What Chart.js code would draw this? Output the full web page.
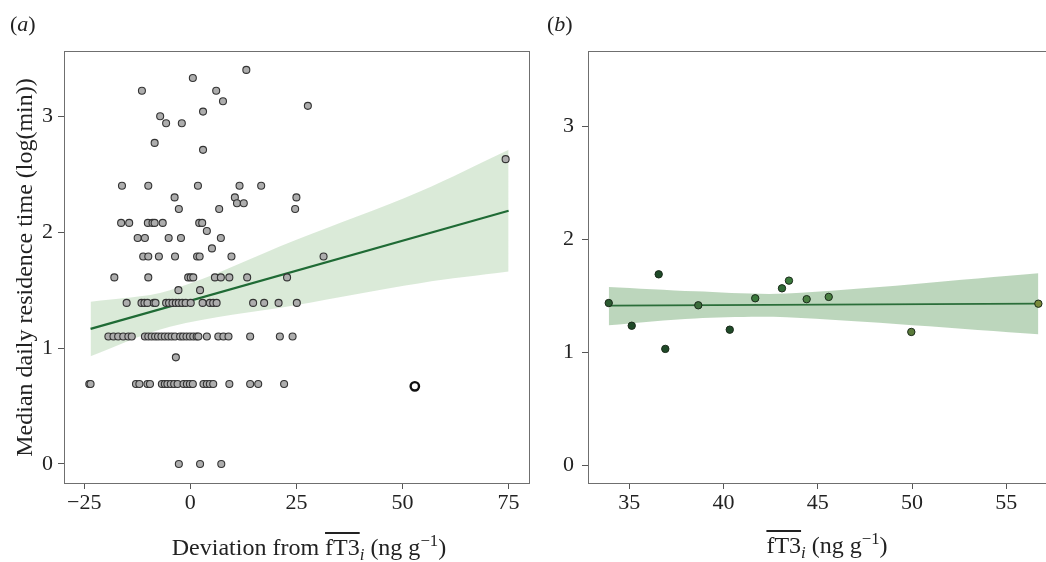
<!DOCTYPE html>
<html>
<head>
<meta charset="utf-8">
<script src="https://cdn.jsdelivr.net/npm/chart.js@4.4.0/dist/chart.umd.min.js"></script>
<style>
  html, body { margin: 0; padding: 0; background: #fff; }
  body { width: 1046px; height: 562px; overflow: hidden; position: relative; font-family: "Liberation Serif", serif; color: #222; }
  canvas { position: absolute; top: 0; }
  .lbl { position: absolute; font-size: 22px; line-height: 26px; white-space: nowrap; }
  .xt { position: absolute; font-size: 24px; line-height: 28px; white-space: nowrap; text-align: center; width: 420px; }
  .ov { text-decoration: overline; text-decoration-thickness: 1.5px; }
  .sb { font-size: 0.7em; font-style: italic; position: relative; top: 0.3em; }
  .sp { font-size: 0.7em; position: relative; top: -0.55em; }
</style>
</head>
<body>
<canvas id="ca" width="540" height="562" style="left:0"></canvas>
<canvas id="cb" width="534" height="562" style="left:540px"></canvas>
<div class="lbl" style="left:10px; top:11px;">(<i>a</i>)</div>
<div class="lbl" style="left:547px; top:11px;">(<i>b</i>)</div>
<div class="xt" style="left:99px; top:533px;">Deviation from <span class="ov">fT3</span><span class="sb">i</span> (ng g<span class="sp">−1</span>)</div>
<div class="xt" style="left:617px; top:531px;"><span class="ov">fT3</span><span class="sb">i</span> (ng g<span class="sp">−1</span>)</div>
<script>
// ---------- Panel (a) data ----------
const aX = [
  13.2, 0.6, -11.4, 6.1, 7.7, 27.7, 3.0, -7.1, -5.7, -2.0, -8.4, 3.0,
  -16.1, -9.9, 1.8, 11.6, 16.7,
  -3.7, 10.5, 25.0,
  11.0, 12.6,
  -2.7, 6.8, 24.7,
  -16.3, -14.4, -10.0, -8.9, -8.4, -6.5, 2.1, 2.8,
  3.9,
  -12.4, -10.7, -5.1, -2.2, 7.2,
  5.1,
  -11.1, -9.9, -7.4, -3.6, 1.6, 2.2, 9.7, 31.4,
  -17.9, -9.9, -0.5, 0.1, 0.7, 5.8, 7.2, 9.2, 13.4, 22.8,
  -2.8, 2.3,
  -15.0, -11.5, -10.8, -10.1, -8.6, -8.2, -5.7, -5.0, -4.2, -3.4, -2.7, -1.9, -1.1, 0.1, 2.9, 4.6, 5.4, 6.2, 14.8, 17.4, 20.8, 25.1,
  -19.3, -18.1, -17.0, -15.8, -14.6, -13.8, -10.7, -9.9, -9.1, -8.3, -7.6, -6.8, -6.0, -5.2, -4.4, -3.6, -2.4, -1.7, -0.9, -0.1, 0.7, 1.5, 1.9, 3.9, 6.6, 7.8, 9.0, 14.1, 21.1, 24.1,
  -3.4,
  -23.8, -23.5, -12.8, -12.0, -10.1, -9.5, -6.7, -6.0, -5.4, -4.6, -3.8, -3.0, -1.6, -0.8, -0.1, 0.6, 3.1, 3.9, 4.6, 5.4, 9.2, 14.1, 16.0, 22.1,
  -2.7, 2.3, 7.3,
  74.3
];
const aY = [
  3.40, 3.33, 3.22, 3.22, 3.13, 3.09, 3.04, 3.00, 2.94, 2.94, 2.77, 2.71,
  2.40, 2.40, 2.40, 2.40, 2.40,
  2.30, 2.30, 2.30,
  2.25, 2.25,
  2.20, 2.20, 2.20,
  2.08, 2.08, 2.08, 2.08, 2.08, 2.08, 2.08, 2.08,
  2.01,
  1.95, 1.95, 1.95, 1.95, 1.95,
  1.86,
  1.79, 1.79, 1.79, 1.79, 1.79, 1.79, 1.79, 1.79,
  1.61, 1.61, 1.61, 1.61, 1.61, 1.61, 1.61, 1.61, 1.61, 1.61,
  1.50, 1.50,
  1.39, 1.39, 1.39, 1.39, 1.39, 1.39, 1.39, 1.39, 1.39, 1.39, 1.39, 1.39, 1.39, 1.39, 1.39, 1.39, 1.39, 1.39, 1.39, 1.39, 1.39, 1.39,
  1.10, 1.10, 1.10, 1.10, 1.10, 1.10, 1.10, 1.10, 1.10, 1.10, 1.10, 1.10, 1.10, 1.10, 1.10, 1.10, 1.10, 1.10, 1.10, 1.10, 1.10, 1.10, 1.10, 1.10, 1.10, 1.10, 1.10, 1.10, 1.10, 1.10,
  0.92,
  0.69, 0.69, 0.69, 0.69, 0.69, 0.69, 0.69, 0.69, 0.69, 0.69, 0.69, 0.69, 0.69, 0.69, 0.69, 0.69, 0.69, 0.69, 0.69, 0.69, 0.69, 0.69, 0.69, 0.69,
  0, 0, 0,
  2.63
];
const aOutlierX = [52.9];
const aOutlierY = [0.67];
const aFitX = [-23.5, 75];
const aFitY = [1.166, 2.185];
const aBandX = [-23.5, -4.8, 24.7, 54.1, 75];
const aBandLow = [0.93, 1.185, 1.37, 1.56, 1.66];
const aBandHigh = [1.40, 1.50, 1.93, 2.35, 2.71];
const aXTicks = [-25, 0, 25, 50, 75];
const aXTickLabels = ['\u221225', '0', '25', '50', '75'];
const aYTicks = [0, 1, 2, 3];

// ---------- Panel (b) data ----------
const bX = [33.91, 35.13, 36.56, 36.91, 38.66, 40.33, 41.68, 43.10, 43.47, 44.41, 45.58, 49.96, 56.70];
const bY = [1.436, 1.235, 1.69, 1.03, 1.416, 1.20, 1.478, 1.566, 1.634, 1.47, 1.49, 1.18, 1.43];
const bFitX = [33.91, 56.70];
const bFitY = [1.413, 1.43];
const bBandX = [33.91, 38.5, 43.35, 56.70];
const bBandLow = [1.24, 1.30, 1.31, 1.16];
const bBandHigh = [1.578, 1.54, 1.52, 1.70];
const bXTicks = [35, 40, 45, 50, 55];
const bYTicks = [0, 1, 2, 3];

// ---------- helpers ----------
const pts = (xs, ys) => xs.map((x, i) => ({ x: x, y: ys[i] }));
const bPointColors = ['#2a5a30', '#1f4a28', '#1f4a28', '#1f4a28', '#3a6c3a', '#1f4a28', '#3a7a3c', '#2f6a35', '#3a7a3c', '#4a8042', '#4a8042', '#5a7a3a', '#7a8a3a'];

const framePlugin = {
  id: 'frame',
  afterDatasetsDraw(chart) {
    const a = chart.chartArea, ctx = chart.ctx;
    ctx.save();
    ctx.strokeStyle = '#6f6f6f';
    ctx.lineWidth = 1;
    ctx.strokeRect(Math.round(a.left) + 0.5, Math.round(a.top) + 0.5, Math.round(a.right - a.left) - 1, Math.round(a.bottom - a.top) - 1);
    ctx.restore();
  }
};

const tickFont = { family: 'Liberation Serif', size: 22 };

function makeScales(o) {
  return {
    x: {
      type: 'linear', min: o.xmin, max: o.xmax,
      afterBuildTicks: s => { s.ticks = o.xticks.map(v => ({ value: v })); },
      afterFit: s => { s.height = 78; },
      grid: { drawOnChartArea: false, drawTicks: true, tickLength: 5, tickColor: '#555', lineWidth: 1 },
      border: { display: false },
      ticks: { font: tickFont, color: '#222', padding: 1, maxRotation: 0, autoSkip: false,
        callback: (v) => { const i = o.xticks.indexOf(v); return o.xlabels ? o.xlabels[i] : String(v); } }
    },
    y: {
      type: 'linear', min: o.ymin, max: o.ymax,
      afterBuildTicks: s => { s.ticks = o.yticks.map(v => ({ value: v })); },
      afterFit: s => { s.width = o.ywidth; },
      grid: { drawOnChartArea: false, drawTicks: true, tickLength: 6, tickColor: '#555', lineWidth: 1 },
      border: { display: false },
      ticks: { font: tickFont, color: '#222', padding: o.ypad, autoSkip: false, callback: v => String(v) },
      title: o.ytitle ? { display: true, text: o.ytitle, color: '#222', font: { family: 'Liberation Serif', size: 24 }, padding: { top: 11, bottom: 0 } } : { display: false }
    }
  };
}

const common = {
  responsive: false,
  animation: false,
  events: [],
  plugins: { legend: { display: false }, tooltip: { enabled: false } }
};

// ---------- Chart (a) ----------
new Chart(document.getElementById('ca'), {
  type: 'scatter',
  data: {
    datasets: [
      { type: 'line', data: pts(aBandX, aBandLow), borderWidth: 0, pointRadius: 0, fill: false, tension: 0.35, order: 5 },
      { type: 'line', data: pts(aBandX, aBandHigh), borderWidth: 0, pointRadius: 0, fill: '-1', backgroundColor: 'rgba(187,216,184,0.55)', tension: 0.35, order: 5 },
      { data: pts(aX, aY), pointRadius: 3.5, pointBorderWidth: 1.1, backgroundColor: '#adadad', borderColor: '#333', order: 2 },
      { type: 'line', data: pts(aFitX, aFitY), borderColor: '#1f6b35', borderWidth: 2.2, pointRadius: 0, fill: false, order: 3 },
      { data: pts(aOutlierX, aOutlierY), pointRadius: 4.2, pointBorderWidth: 2.4, backgroundColor: 'rgba(255,255,255,0.6)', borderColor: '#111', order: 1 }
    ]
  },
  options: Object.assign({}, common, {
    layout: { padding: { top: 51, right: 10, left: 0, bottom: 0 } },
    scales: makeScales({ xmin: -29.76, xmax: 80.04, ymin: -0.1726, ymax: 3.563, xticks: aXTicks, xlabels: aXTickLabels, yticks: aYTicks, ywidth: 64, ypad: 5, ytitle: 'Median daily residence time (log(min))' })
  }),
  plugins: [framePlugin]
});

// ---------- Chart (b) ----------
new Chart(document.getElementById('cb'), {
  type: 'scatter',
  data: {
    datasets: [
      { type: 'line', data: pts(bBandX, bBandLow), borderWidth: 0, pointRadius: 0, fill: false, tension: 0.3, order: 5 },
      { type: 'line', data: pts(bBandX, bBandHigh), borderWidth: 0, pointRadius: 0, fill: '-1', backgroundColor: 'rgba(140,185,140,0.58)', tension: 0.3, order: 5 },
      { type: 'line', data: pts(bFitX, bFitY), borderColor: '#2b6e3a', borderWidth: 1.8, pointRadius: 0, fill: false, order: 3 },
      { data: pts(bX, bY), pointRadius: 3.7, pointBorderWidth: 1, backgroundColor: bPointColors, borderColor: '#1a2a1a', order: 1 }
    ]
  },
  options: Object.assign({}, common, {
    layout: { padding: { top: 51, right: 10, left: 0, bottom: 0 } },
    scales: makeScales({ xmin: 32.81, xmax: 58.06, ymin: -0.1655, ymax: 3.666, xticks: bXTicks, yticks: bYTicks, ywidth: 48, ypad: 8 })
  }),
  plugins: [framePlugin]
});
</script>
</body>
</html>
